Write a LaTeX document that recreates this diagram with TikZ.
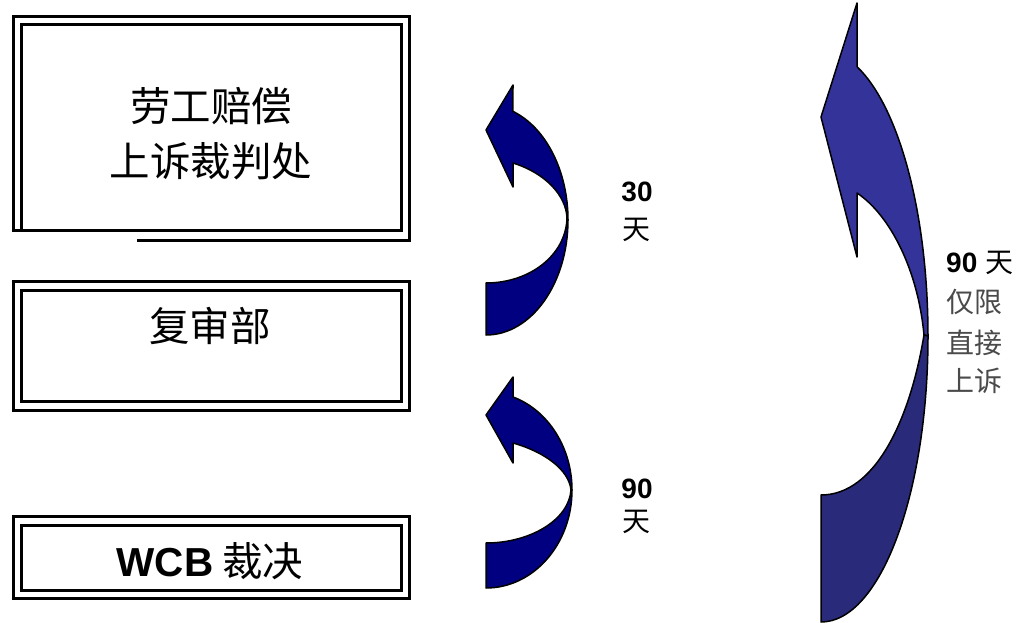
\documentclass[tikz,border=0pt]{standalone}
\usepackage{fontspec}
\setmainfont{Liberation Sans}
\newfontfamily\cjk{Noto Sans CJK SC}
\definecolor{navyA}{HTML}{000080}
\definecolor{bigup}{HTML}{333399}
\definecolor{biglow}{HTML}{2A2A7A}
\definecolor{labelgray}{HTML}{4A4A4A}
\begin{document}
\begin{tikzpicture}[x=1pt,y=-1pt,
  frame/.style={line width=3pt},
  arrowpart/.style={draw=black, line width=1.5pt, line join=round},
  boxtext/.style={font=\cjk\fontsize{40.5}{44}\selectfont, inner sep=0pt, anchor=base},
  daytext/.style={font=\fontsize{28}{32}\selectfont, inner sep=0pt, anchor=base},
  biglabel/.style={font=\fontsize{28}{32}\selectfont, inner sep=0pt, anchor=base west}]
\useasboundingbox[fill=white] (0,0) rectangle (1021,623);

% box 1
\draw[frame] (137,240) -- (409,240) -- (409,16.5) -- (13.5,16.5) -- (13.5,232);
\draw[frame] (13.5,231) -- (401,231) -- (401,25) -- (21,25) -- (21,231);
\node[boxtext] (b1a) at (211,122) {劳工赔偿};
\node[boxtext] (b1b) at (211,177) {上诉裁判处};

% box 2
\draw[frame] (13.5,281) rectangle (409,410);
\draw[frame] (21,290) rectangle (401,401.5);
\node[boxtext] (b2) at (210,341) {复审部};

% box 3
\draw[frame] (13.5,516) rectangle (409,598.5);
\draw[frame] (21,525) rectangle (401,590);
\node[boxtext] (b3) at (210,576) {{\fontspec{Liberation Sans}\bfseries WCB} 裁决};

% small arrow 1
\path[arrowpart, fill=navyA] (513,85) -- (486,130) -- (513,187) -- (513,163)
  .. controls (545,173) and (566,195) .. (567,218) -- (568,220)
  arc[start angle=0, end angle=70.8, x radius=82pt, y radius=115pt] -- cycle;
\path[arrowpart, fill=navyA] (568,220)
  arc[start angle=0, end angle=-90, x radius=82pt, y radius=115pt] -- (486,283)
  .. controls (530,283) and (566,255) .. (567,218) -- cycle;

% small arrow 2
\path[arrowpart, fill=navyA] (513,377) -- (486,415) -- (513,463) -- (513,443)
  .. controls (545,452) and (569,470) .. (571,490) -- (572,490)
  arc[start angle=0, end angle=71.7, x radius=86pt, y radius=98pt] -- cycle;
\path[arrowpart, fill=navyA] (572,490)
  arc[start angle=0, end angle=-90, x radius=86pt, y radius=98pt] -- (486,543)
  .. controls (530,543) and (569,520) .. (571,490) -- cycle;

% big arrow
\path[arrowpart, fill=bigup] (857,3) -- (821,117) -- (857,257) -- (857,193)
  .. controls (890,215) and (918,270) .. (924,335) -- (928,336)
  arc[start angle=0, end angle=70.3, x radius=107pt, y radius=286pt] -- cycle;
\path[arrowpart, fill=biglow] (928,336)
  arc[start angle=0, end angle=-90, x radius=107pt, y radius=286pt] -- (821,495)
  .. controls (875,495) and (910,420) .. (924,335) -- cycle;

% labels
\node[daytext] (d30) at (637,202) {\bfseries 30};
\node[daytext] (t30) at (636,240) {\cjk 天};
\node[daytext] (d90) at (637,498) {\bfseries 90};
\node[daytext] (t90) at (636,531) {\cjk 天};
\node[biglabel] (g1) at (946,272) {\bfseries 90 {\cjk\mdseries 天}};
\node[biglabel, text=labelgray] (g2) at (946,312) {\cjk 仅限};
\node[biglabel, text=labelgray] (g3) at (946,353) {\cjk 直接};
\node[biglabel, text=labelgray] (g4) at (946,391) {\cjk 上诉};
\end{tikzpicture}
\end{document}
